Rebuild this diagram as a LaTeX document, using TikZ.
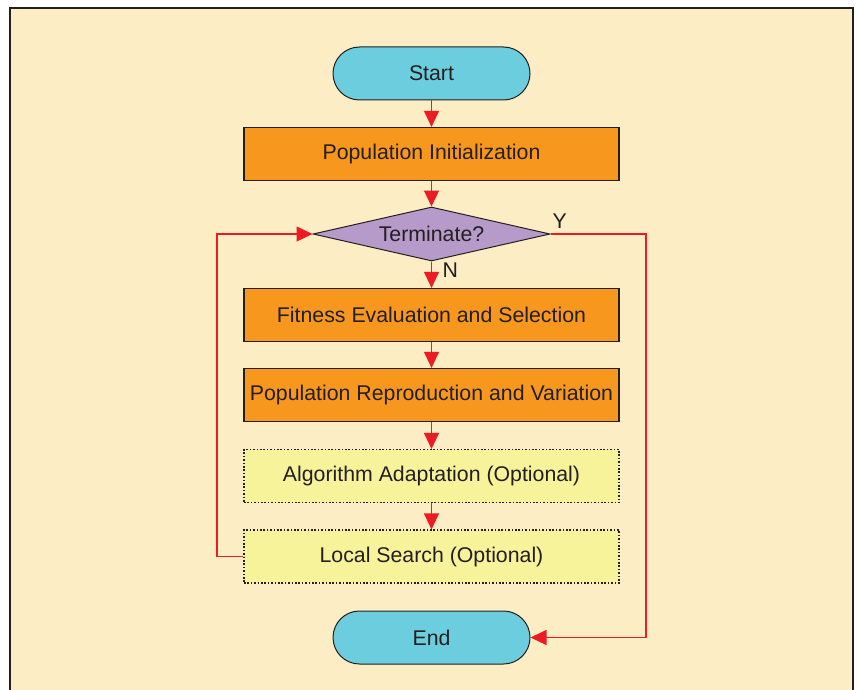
\documentclass[tikz,border=0pt]{standalone}
\usepackage{fontspec}
\setmainfont{Liberation Sans}
\usetikzlibrary{shapes.geometric,arrows.meta}
\definecolor{bgc}{HTML}{FDEDC4}
\definecolor{cyanc}{HTML}{6BCDDD}
\definecolor{orangec}{HTML}{F7971E}
\definecolor{purplec}{HTML}{B69AC9}
\definecolor{yellowc}{HTML}{F7F39A}
\definecolor{redc}{HTML}{ED1C24}
\definecolor{inkc}{HTML}{231F20}
\tikzset{
  every node/.style={font=\fontsize{21.3}{25}\selectfont, text=inkc},
  term/.style={draw=inkc, line width=1pt, fill=cyanc, rounded corners=26.5pt, minimum width=197pt, minimum height=53pt, inner sep=0pt},
  procbox/.style={draw=inkc, line width=1.2pt, fill=orangec, minimum width=375pt, minimum height=53pt, inner sep=0pt},
  optbox/.style={draw=inkc, line width=1.1pt, dash pattern=on 1.6pt off 1.8pt, fill=yellowc, minimum width=375pt, minimum height=53pt, inner sep=0pt},
  decide/.style={draw=inkc, line width=1pt, fill=purplec, diamond, aspect=4.39, minimum width=237pt, minimum height=54pt, inner sep=0pt},
  flow/.style={draw=redc, line width=1.1pt, -{Triangle[length=16pt,width=15pt]}},
}
\begin{document}
\begin{tikzpicture}[x=1pt,y=-1pt]
\useasboundingbox (0,0) rectangle (857,690);
\fill[white] (0,0) rectangle (857,690);
\draw[fill=bgc, draw=inkc, line width=1.5pt] (10,720) -- (10,8) -- (853,8) -- (853,720);
\node[term] (start) at (431.5,73.5) {Start};
\node[procbox] (init) at (431.5,154) {Population Initialization};
\node[decide] (term) at (431.5,234) {Terminate?};
\node[procbox] (fit) at (431.5,315) {Fitness Evaluation and Selection};
\node[procbox] (rep) at (431.5,395) {Population Reproduction and Variation};
\node[optbox] (ada) at (431.5,476) {Algorithm Adaptation (Optional)};
\node[optbox] (ls) at (431.5,556.5) {Local Search (Optional)};
\node[term] (end) at (431.5,637.5) {End};
\coordinate (lx) at (217,0);
\coordinate (rx) at (646,0);
\draw[flow] (start) -- (init);
\draw[flow] (init) -- (term.north);
\draw[flow] (term.south) -- (fit);
\draw[flow] (fit) -- (rep);
\draw[flow] (rep) -- (ada);
\draw[flow] (ada) -- (ls);
\draw[flow] (ls.west) -- (ls.west -| lx) -- (term.west -| lx) -- (term.west);
\draw[flow] (term.east) -- (term.east -| rx) -- (end.east -| rx) -- (end.east);
\node[anchor=base west, inner sep=0pt] (ylab) at ([xshift=2pt,yshift=6pt]term.east) {Y};
\node[anchor=north west, inner sep=0pt] (nlab) at ([xshift=11pt,yshift=-1pt]term.south) {N};
\end{tikzpicture}
\end{document}
